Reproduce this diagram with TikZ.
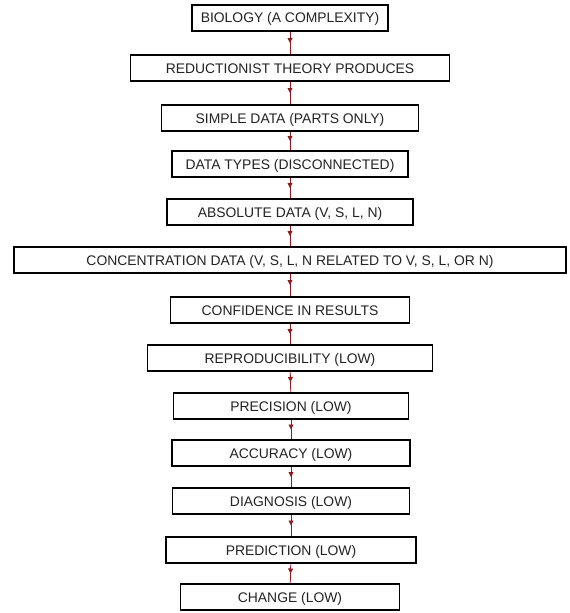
\documentclass[tikz,border=0pt]{standalone}
\usepackage{fontspec}
\setmainfont{Liberation Sans}
\usetikzlibrary{arrows.meta,decorations.markings}
\definecolor{arrowred}{RGB}{145,28,32}
\definecolor{inkgray}{RGB}{35,35,35}
\begin{document}
\begin{tikzpicture}[x=1pt,y=-1pt,
  stepbox/.style={draw=black, line width=1.8pt, fill=white, minimum height=26pt,
    inner sep=0pt, text height=10pt, text depth=0pt, text=inkgray,
    font=\fontsize{13.9}{16}\selectfont},
  link/.style={color=arrowred, line width=0.8pt, postaction={decorate},
    decoration={markings, mark=at position 0.5 with {\arrow{Triangle[length=5pt,width=5pt]}}}}]
\useasboundingbox (0,0) rectangle (570,613);
\fill[white] (0,0) rectangle (570,613);
% flow of steps, top to bottom
\node[stepbox, minimum width=196pt] (n1)  at (290,18)  {BIOLOGY (A COMPLEXITY)};
\node[stepbox, minimum width=319pt] (n2)  at (290,68)  {REDUCTIONIST THEORY PRODUCES};
\node[stepbox, minimum width=257pt] (n3)  at (290,118) {SIMPLE DATA (PARTS ONLY)};
\node[stepbox, minimum width=236pt] (n4)  at (290,164) {DATA TYPES (DISCONNECTED)};
\node[stepbox, minimum width=246pt] (n5)  at (290,212) {ABSOLUTE DATA (V, S, L, N)};
\node[stepbox, minimum width=552pt] (n6)  at (290,260) {CONCENTRATION DATA (V, S, L, N RELATED TO V, S, L, OR N)};
\node[stepbox, minimum width=239pt] (n7)  at (290,310) {CONFIDENCE IN RESULTS};
\node[stepbox, minimum width=285pt] (n8)  at (290,358) {REPRODUCIBILITY (LOW)};
\node[stepbox, minimum width=235pt] (n9)  at (291,406) {PRECISION (LOW)};
\node[stepbox, minimum width=238pt] (n10) at (291,453) {ACCURACY (LOW)};
\node[stepbox, minimum width=237pt] (n11) at (291,501) {DIAGNOSIS (LOW)};
\node[stepbox, minimum width=250pt] (n12) at (291,550) {PREDICTION (LOW)};
\node[stepbox, minimum width=219pt] (n13) at (290,597) {CHANGE (LOW)};
% connectors
\foreach \a/\b in {n1/n2,n2/n3,n3/n4,n4/n5,n5/n6,n6/n7,n7/n8,n8/n9,n9/n10,n10/n11,n11/n12,n12/n13}
  \draw[link] (\a) -- (\b);
\end{tikzpicture}
\end{document}
